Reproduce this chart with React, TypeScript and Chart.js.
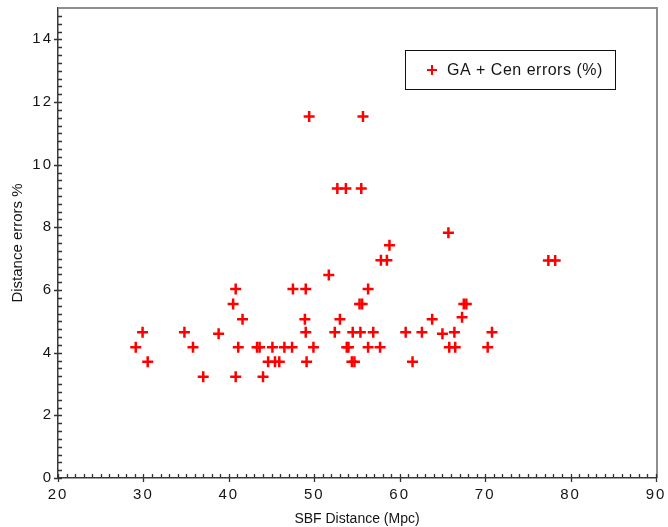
import React, { useEffect, useRef } from "react";
import { Chart, registerables } from "chart.js";

Chart.register(...registerables);

const seriesLabel = "GA + Cen errors (%)";
const xTitle = "SBF Distance (Mpc)";
const yTitle = "Distance errors %";

const sbfDistance = [
  29.1, 29.9, 30.5, 34.8, 35.8, 37.0, 38.8, 40.5, 40.8, 40.8, 41.1, 41.6,
  43.3, 43.6, 44.0, 44.6, 45.1, 45.4, 45.9, 46.5, 47.4, 47.5, 49.0, 48.9,
  49.0, 49.1, 49.9,
  51.7, 56.3, 55.3, 55.6, 53.0, 63.8, 67.3, 67.5, 67.8,
  52.4, 54.5, 55.4, 56.9, 60.7, 62.6, 65.0, 66.4, 70.8,
  53.8, 54.0, 56.3, 57.7, 65.8, 66.5, 70.3,
  54.4, 54.7, 61.5,
  49.4, 55.7, 52.7, 53.7, 55.5, 58.8, 57.8, 58.5,
  65.7, 77.4, 78.2,
];

const distanceErrors = [
  4.17, 4.65, 3.71, 4.65, 4.17, 3.23, 4.6, 5.55, 6.03, 3.23, 4.17, 5.07,
  4.17, 4.17, 3.23, 3.71, 4.17, 3.71, 3.71, 4.17, 4.17, 6.03, 6.03, 5.07,
  4.65, 3.71, 4.17,
  6.48, 6.03, 5.55, 5.55, 5.07, 5.07, 5.13, 5.55, 5.55,
  4.65, 4.65, 4.65, 4.65, 4.65, 4.65, 4.6, 4.65, 4.65,
  4.17, 4.17, 4.17, 4.17, 4.17, 4.17, 4.17,
  3.71, 3.71, 3.71,
  11.54, 11.54, 9.24, 9.24, 9.24, 7.43, 6.95, 6.95,
  7.83, 6.94, 6.94,
];

const xTickValues = [20, 30, 40, 50, 60, 70, 80, 90];
const yTickValues = [0, 2, 4, 6, 8, 10, 12, 14];
const xRange = [20, 90];
const yRange = [0, 15];
const xMinorStep = 1;
const yMinorStep = 0.25;

const FONT = "'Liberation Sans', Arial, Helvetica, sans-serif";
const RED = "rgb(255,0,0)";
const INK = "#151515";

const framePlugin = {
  id: "frameAndTicks",
  beforeDraw(chart: any) {
    chart.ctx.letterSpacing = "0px";
  },
  afterDatasetsDraw(chart: any) {
    const { ctx, chartArea: a, scales } = chart;
    const xs = scales.x;
    const ys = scales.y;
    ctx.save();
    // top & right frame
    ctx.strokeStyle = "#8e8e8e";
    ctx.lineWidth = 2;
    ctx.beginPath();
    ctx.moveTo(a.left, a.top);
    ctx.lineTo(a.right + 1, a.top);
    ctx.lineTo(a.right + 1, a.bottom);
    ctx.stroke();

    // tick marks
    ctx.strokeStyle = "#333";
    ctx.lineWidth = 1.3;
    ctx.beginPath();
    const nx = Math.round((xRange[1] - xRange[0]) / xMinorStep);
    for (let i = 0; i <= nx; i++) {
      const v = xRange[0] + i * xMinorStep;
      const px = Math.round(xs.getPixelForValue(v)) + 0.5;
      const major = xTickValues.some((t) => Math.abs(t - v) < 1e-6);
      ctx.moveTo(px, a.bottom - 4);
      ctx.lineTo(px, a.bottom + (major ? 4 : 0));
    }
    const ny = Math.round((yRange[1] - yRange[0]) / yMinorStep);
    for (let i = 0; i < ny; i++) {
      const v = yRange[0] + i * yMinorStep;
      const py = Math.round(ys.getPixelForValue(v)) + 0.5;
      const major = yTickValues.some((t) => Math.abs(t - v) < 1e-6);
      ctx.moveTo(a.left + 4, py);
      ctx.lineTo(a.left - (major ? 4 : 0), py);
    }
    ctx.stroke();
    ctx.restore();
    // tick labels (drawn after datasets, z = 1) use spaced digits
    ctx.letterSpacing = "2px";
  },
  afterDraw(chart: any) {
    const { ctx, chartArea: a } = chart;
    ctx.letterSpacing = "0px";
    const label = chart.data.datasets[0].label;
    // legend box
    const boxRight = a.right - 41;
    const boxLeft = boxRight - 210;
    const boxTop = a.top + 42;
    const boxH = 39;
    ctx.save();
    ctx.fillStyle = "#ffffff";
    ctx.fillRect(boxLeft, boxTop, 210, boxH);
    ctx.strokeStyle = "#111";
    ctx.lineWidth = 1;
    ctx.strokeRect(boxLeft + 0.5, boxTop + 0.5, 210, boxH);
    const cy = boxTop + boxH / 2 + 0.5;
    const mx = boxLeft + 27;
    ctx.strokeStyle = RED;
    ctx.lineWidth = 2;
    ctx.beginPath();
    ctx.moveTo(mx - 5, cy);
    ctx.lineTo(mx + 5, cy);
    ctx.moveTo(mx, cy - 5);
    ctx.lineTo(mx, cy + 5);
    ctx.stroke();
    ctx.fillStyle = INK;
    ctx.font = `16px ${FONT}`;
    ctx.letterSpacing = "0.5px";
    ctx.textAlign = "left";
    ctx.textBaseline = "middle";
    ctx.fillText(label, boxLeft + 42, cy + 1);
    ctx.restore();
    ctx.letterSpacing = "0px";
  },
};

export default function App() {
  const ref = useRef<HTMLCanvasElement | null>(null);

  useEffect(() => {
    if (!ref.current) return;
    const points = sbfDistance.map((x, i) => ({ x, y: distanceErrors[i] }));
    const chart = new Chart(ref.current, {
      type: "scatter",
      data: {
        datasets: [
          {
            label: seriesLabel,
            data: points,
            pointStyle: "cross",
            pointRadius: 5.5,
            pointHoverRadius: 5.5,
            borderColor: RED,
            backgroundColor: RED,
            borderWidth: 2.5,
          },
        ],
      },
      options: {
        animation: false,
        responsive: false,
        events: [],
        layout: { padding: { top: 7, right: 12, left: 0, bottom: 0 } },
        plugins: {
          legend: { display: false },
          tooltip: { enabled: false },
        },
        scales: {
          x: {
            type: "linear",
            min: xRange[0],
            max: xRange[1],
            afterBuildTicks: (s: any) => {
              s.ticks = xTickValues.map((v) => ({ value: v }));
            },
            afterFit: (s: any) => {
              s.height = 49;
              s.paddingLeft = 0;
              s.paddingRight = 0;
            },
            grid: { display: false, drawTicks: false },
            border: { display: true, color: "#3a3a3a", width: 1.5 },
            ticks: {
              z: 1,
              padding: 8,
              color: INK,
              font: { family: FONT, size: 15 },
              maxRotation: 0,
              autoSkip: false,
            },
            title: {
              display: true,
              text: xTitle,
              color: INK,
              font: { family: FONT, size: 14 },
              padding: { top: 0, bottom: -1 },
            },
          },
          y: {
            type: "linear",
            min: yRange[0],
            max: yRange[1],
            afterBuildTicks: (s: any) => {
              s.ticks = yTickValues.map((v) => ({ value: v }));
            },
            afterFit: (s: any) => {
              s.width = 58;
              s.paddingTop = 0;
              s.paddingBottom = 0;
            },
            grid: { display: false, drawTicks: false },
            border: { display: true, color: "#3a3a3a", width: 1.5 },
            ticks: {
              z: 1,
              padding: 5,
              color: INK,
              font: { family: FONT, size: 15 },
              autoSkip: false,
            },
            title: {
              display: true,
              text: yTitle,
              color: INK,
              font: { family: FONT, size: 15 },
              padding: { top: 9, bottom: 0 },
            },
          },
        },
      },
      plugins: [framePlugin],
    });
    return () => chart.destroy();
  }, []);

  return (
    <div style={{ position: "absolute", left: 0, top: 0, width: 668, height: 527, background: "#fff" }}>
      <canvas ref={ref} width={668} height={527} style={{ display: "block" }} />
    </div>
  );
}
